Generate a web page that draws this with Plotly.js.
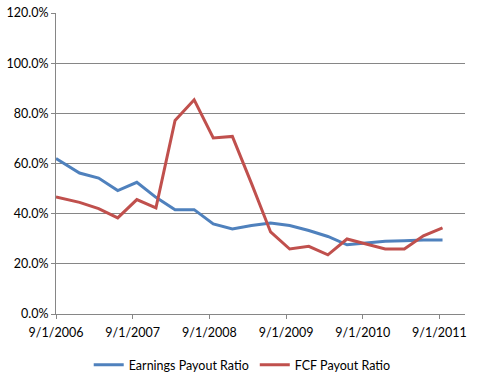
<!DOCTYPE html>
<html>
<head>
<meta charset="utf-8">
<script src="https://cdn.plot.ly/plotly-3.0.1.min.js"></script>
<style>html,body{margin:0;padding:0;background:#fff;}#chart{width:480px;height:379px;}</style>
</head>
<body>
<div id="chart"></div>
<script>
const dates = ['2006-09-01','2006-12-22','2007-03-23','2007-06-22','2007-09-21','2007-12-21','2008-03-21','2008-06-20','2008-09-19','2008-12-19','2009-03-20','2009-06-19','2009-09-18','2009-12-18','2010-03-19','2010-06-18','2010-09-17','2010-12-17','2011-03-18','2011-06-17','2011-09-16'];
const earningsPayout = [0.620,0.562,0.542,0.492,0.525,0.465,0.416,0.416,0.359,0.339,0.353,0.363,0.353,0.333,0.309,0.276,0.283,0.290,0.292,0.295,0.295];
const fcfPayout = [0.467,0.445,0.420,0.383,0.456,0.423,0.772,0.854,0.702,0.708,0.521,0.327,0.259,0.270,0.236,0.299,0.279,0.259,0.259,0.312,0.343];
const tickDates = ['2006-09-01','2007-09-01','2008-09-01','2009-09-01','2010-09-01','2011-09-01'];
const tickLabels = ['9/1/2006','9/1/2007','9/1/2008','9/1/2009','9/1/2010','9/1/2011'];
const yTicks = [0,0.2,0.4,0.6,0.8,1.0,1.2];

const font = {family: 'Lato, "Open Sans", sans-serif', size: 12.5, color: '#000'};
const traces = [
  {x: dates, y: earningsPayout, name: 'Earnings Payout Ratio', type: 'scatter', mode: 'lines',
   line: {color: '#4F81BD', width: 3}, legend: 'legend'},
  {x: dates, y: fcfPayout, name: 'FCF Payout Ratio', type: 'scatter', mode: 'lines',
   line: {color: '#C0504D', width: 3}, legend: 'legend2'}
];
const legendBase = {orientation: 'h', xanchor: 'left', y: -0.12, yanchor: 'top', font: font,
  bgcolor: 'rgba(0,0,0,0)'};
const layout = {
  width: 480, height: 379,
  margin: {l: 56, r: 15, t: 13, b: 65, autoexpand: false},
  paper_bgcolor: '#fff', plot_bgcolor: '#fff',
  font: font,
  showlegend: true,
  legend: Object.assign({x: 0.08}, legendBase),
  legend2: Object.assign({x: 0.486}, legendBase),
  xaxis: {type: 'date', range: ['2006-09-01','2012-01-01'], tickmode: 'array',
    tickvals: tickDates, ticktext: tickLabels, ticks: 'outside', ticklen: 4,
    ticklabelstandoff: 3,
    tickcolor: '#868686', showline: true, linecolor: '#868686', linewidth: 1,
    showgrid: false, zeroline: false, tickfont: font},
  yaxis: {range: [0, 1.2], tickmode: 'array', tickvals: yTicks, tickformat: '.1%',
    ticks: 'outside', ticklen: 4, tickcolor: '#868686', showline: true,
    linecolor: '#868686', linewidth: 1, showgrid: true, gridcolor: '#868686',
    gridwidth: 1, zeroline: false, tickfont: font}
};
Plotly.newPlot('chart', traces, layout, {displayModeBar: false, staticPlot: true});
</script>
</body>
</html>
